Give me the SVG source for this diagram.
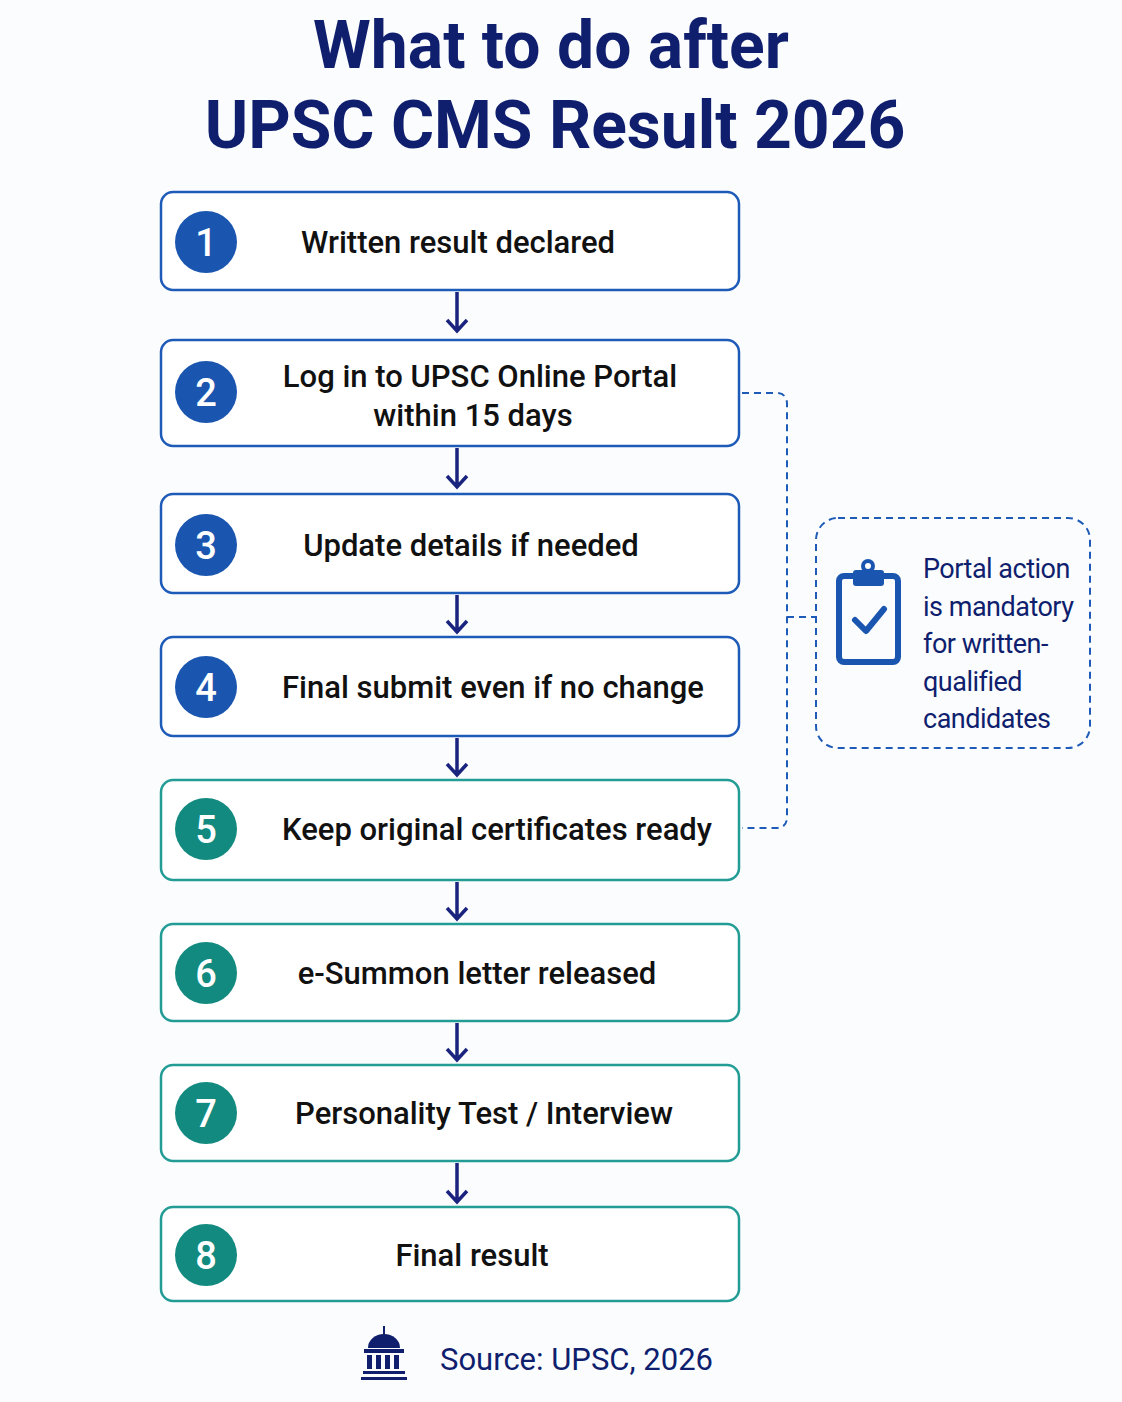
<svg xmlns="http://www.w3.org/2000/svg" width="1122" height="1402" viewBox="0 0 1122 1402">
<style>
.t{font-family:Roboto,"Liberation Sans",sans-serif;font-weight:700;font-size:66px;fill:#0f1f6e;text-anchor:middle}
.bb{fill:#fff;stroke:#1e5bb8;stroke-width:2.5}
.bt{fill:#fff;stroke:#239c95;stroke-width:2.5}
.cb{fill:#1a56b0}.ct{fill:#138a80}
.n{font-family:Roboto,"Liberation Sans",sans-serif;font-weight:500;font-size:38px;fill:#fff;text-anchor:middle}
.l{font-family:Roboto,"Liberation Sans",sans-serif;font-weight:500;font-size:31px;fill:#111;text-anchor:middle}
.c{font-family:Roboto,"Liberation Sans",sans-serif;font-size:27px;letter-spacing:-0.5px;fill:#0f1f6e}
.a{stroke:#1a237e;stroke-width:3.5;fill:none}
.d{stroke:#1e5bb8;stroke-width:2;fill:none;stroke-dasharray:7 5}
</style>
<rect width="1122" height="1402" fill="#fbfcfe"/>
<text class="t" x="551" y="68">What to do after</text>
<text class="t" x="555" y="148">UPSC CMS Result 2026</text>
<g id="n1"><rect class="bb" x="161" y="192" width="578" height="98" rx="12"/><circle class="cb" cx="206" cy="242" r="31"/><text class="n" x="206" y="256">1</text><text class="l" x="458" y="253">Written result declared</text></g>
<g id="n2"><rect class="bb" x="161" y="340" width="578" height="106" rx="12"/><circle class="cb" cx="206" cy="392" r="31"/><text class="n" x="206" y="406">2</text><text class="l" x="480" y="387">Log in to UPSC Online Portal</text><text class="l" x="473" y="426">within 15 days</text></g>
<g id="n3"><rect class="bb" x="161" y="494" width="578" height="99" rx="12"/><circle class="cb" cx="206" cy="545" r="31"/><text class="n" x="206" y="559">3</text><text class="l" x="471" y="556">Update details if needed</text></g>
<g id="n4"><rect class="bb" x="161" y="637" width="578" height="99" rx="12"/><circle class="cb" cx="206" cy="687" r="31"/><text class="n" x="206" y="701">4</text><text class="l" x="493" y="698">Final submit even if no change</text></g>
<g id="n5"><rect class="bt" x="161" y="780" width="578" height="100" rx="12"/><circle class="ct" cx="206" cy="829" r="31"/><text class="n" x="206" y="843">5</text><text class="l" x="497" y="840">Keep original certificates ready</text></g>
<g id="n6"><rect class="bt" x="161" y="924" width="578" height="97" rx="12"/><circle class="ct" cx="206" cy="973" r="31"/><text class="n" x="206" y="987">6</text><text class="l" x="477" y="984">e-Summon letter released</text></g>
<g id="n7"><rect class="bt" x="161" y="1065" width="578" height="96" rx="12"/><circle class="ct" cx="206" cy="1113" r="31"/><text class="n" x="206" y="1127">7</text><text class="l" x="484" y="1124">Personality Test / Interview</text></g>
<g id="n8"><rect class="bt" x="161" y="1207" width="578" height="94" rx="12"/><circle class="ct" cx="206" cy="1255" r="31"/><text class="n" x="206" y="1269">8</text><text class="l" x="472" y="1266">Final result</text></g>
<g id="connectors">
<path class="a" d="M457 292V331M447 320l10 11 10-11"/>
<path class="a" d="M457 448V487M447 476l10 11 10-11"/>
<path class="a" d="M457 595V632M447 621l10 11 10-11"/>
<path class="a" d="M457 738V775M447 764l10 11 10-11"/>
<path class="a" d="M457 882V919M447 908l10 11 10-11"/>
<path class="a" d="M457 1023V1060M447 1049l10 11 10-11"/>
<path class="a" d="M457 1163V1202M447 1191l10 11 10-11"/>
<path class="d" d="M742 393H776Q787 393 787 404V817Q787 828 776 828H742M787 617H816"/>
</g>
<g id="callout">
<rect class="d" x="816" y="518" width="274" height="230" rx="22"/>
<rect x="839" y="576" width="59" height="86" rx="5" fill="none" stroke="#1a56b0" stroke-width="6"/>
<rect x="853" y="570" width="31" height="16" rx="3" fill="#1a56b0"/>
<circle cx="868" cy="566" r="7" fill="#1a56b0"/><circle cx="868" cy="566" r="3" fill="#fff"/>
<path d="M855 620l11 11 18-22" fill="none" stroke="#1a56b0" stroke-width="6" stroke-linecap="round" stroke-linejoin="round"/>
<text class="c" x="923" y="578">Portal action</text>
<text class="c" x="923" y="616">is mandatory</text>
<text class="c" x="923" y="653">for written-</text>
<text class="c" x="923" y="691">qualified</text>
<text class="c" x="923" y="728">candidates</text>
</g>
<g id="source">
<path d="M368 1348a16 14 0 0 1 32 0z" fill="#0f1f6e"/>
<rect x="383" y="1326" width="2" height="10" fill="#0f1f6e"/>
<rect x="364" y="1349" width="40" height="4" fill="#0f1f6e"/>
<rect x="367" y="1355" width="5" height="14" fill="#0f1f6e"/><rect x="376" y="1355" width="5" height="14" fill="#0f1f6e"/><rect x="385" y="1355" width="5" height="14" fill="#0f1f6e"/><rect x="394" y="1355" width="5" height="14" fill="#0f1f6e"/>
<rect x="363" y="1371" width="42" height="3" fill="#0f1f6e"/><rect x="361" y="1377" width="46" height="3" fill="#0f1f6e"/>
<text x="440" y="1370" style="font-family:Roboto,'Liberation Sans',sans-serif;font-size:31px;fill:#0f1f6e">Source: UPSC, 2026</text>
</g>
</svg>
